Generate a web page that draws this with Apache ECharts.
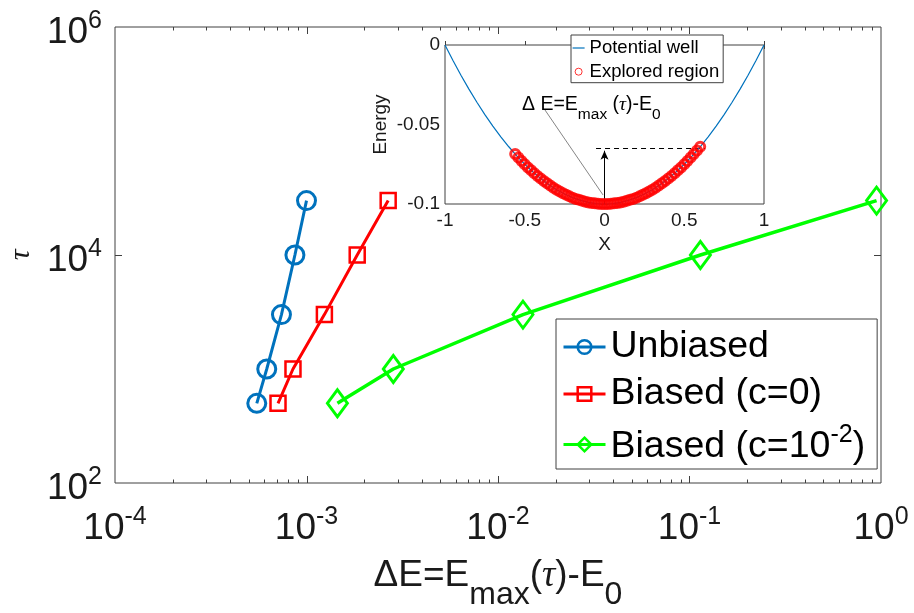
<!DOCTYPE html>
<html><head><meta charset="utf-8">
<script src="https://cdn.jsdelivr.net/npm/echarts@6/dist/echarts.min.js"></script>
<style>html,body{margin:0;padding:0;background:#fff}#c{width:914px;height:613px}</style>
</head><body><div id="c"></div>
<script>
// ---- main plot data ----
const unbiasedX   = [5.5e-4, 6.2e-4, 7.4e-4, 8.7e-4, 1.0e-3];
const unbiasedTau = [500, 1000, 3000, 10000, 30000];
const biasedX     = [7.1e-4, 8.5e-4, 1.24e-3, 1.84e-3, 2.67e-3];
const biasedTau   = [500, 1000, 3000, 10000, 30000];
const biasedCX    = [1.45e-3, 2.84e-3, 1.35e-2, 0.114, 0.948];
const biasedCTau  = [500, 1000, 3000, 10000, 30000];
const seriesNames = ['Unbiased', 'Biased (c=0)', 'Biased (c=10^-2)'];

// ---- inset data ----
const wellX = [-1,-0.95,-0.9,-0.85,-0.8,-0.75,-0.7,-0.65,-0.6,-0.55,-0.5,-0.45,-0.4,-0.35,-0.3,-0.25,-0.2,-0.15,-0.1,-0.05,0,
               0.05,0.1,0.15,0.2,0.25,0.3,0.35,0.4,0.45,0.5,0.55,0.6,0.65,0.7,0.75,0.8,0.85,0.9,0.95,1];
const wellE = [0,-0.00975,-0.019,-0.02775,-0.036,-0.04375,-0.051,-0.05775,-0.064,-0.06975,-0.075,-0.07975,-0.084,-0.08775,-0.091,-0.09375,-0.096,-0.09775,-0.099,-0.09975,-0.1,
               -0.09975,-0.099,-0.09775,-0.096,-0.09375,-0.091,-0.08775,-0.084,-0.07975,-0.075,-0.06975,-0.064,-0.05775,-0.051,-0.04375,-0.036,-0.02775,-0.019,-0.00975,0];
const exploredX = [-0.56,-0.54,-0.52,-0.5,-0.48,-0.46,-0.44,-0.42,-0.4,-0.38,-0.36,-0.34,-0.32,-0.3,-0.28,-0.26,-0.24,-0.22,-0.2,-0.18,-0.16,-0.14,-0.12,-0.1,-0.08,-0.06,-0.04,-0.02,0,
                   0.02,0.04,0.06,0.08,0.1,0.12,0.14,0.16,0.18,0.2,0.22,0.24,0.26,0.28,0.3,0.32,0.34,0.36,0.38,0.4,0.42,0.44,0.46,0.48,0.5,0.52,0.54,0.56,0.58,0.6];
const exploredE = [-0.0686,-0.0708,-0.0730,-0.0750,-0.0770,-0.0788,-0.0806,-0.0824,-0.0840,-0.0856,-0.0870,-0.0884,-0.0898,-0.0910,-0.0922,-0.0932,-0.0942,-0.0952,-0.0960,-0.0968,-0.0974,-0.0980,-0.0986,-0.0990,-0.0994,-0.0996,-0.0998,-0.1000,-0.1000,
                   -0.1000,-0.0998,-0.0996,-0.0994,-0.0990,-0.0986,-0.0980,-0.0974,-0.0968,-0.0960,-0.0952,-0.0942,-0.0932,-0.0922,-0.0910,-0.0898,-0.0884,-0.0870,-0.0856,-0.0840,-0.0824,-0.0806,-0.0788,-0.0770,-0.0750,-0.0730,-0.0708,-0.0686,-0.0664,-0.0640];
const arrowBase = [0, -0.1], arrowTip = [0, -0.0665];
const dashStart = [-0.053, -0.065], dashEnd = [0.63, -0.065];
const pointerStart = [-0.373, -0.0409], pointerEnd = [-0.0094, -0.0943];

// ---- axis ticks ----
const xMajorInner = [1e-3, 1e-2, 1e-1];
const xMinor = [];
for (let d = -4; d < 0; d++) for (let k = 2; k <= 9; k++) xMinor.push(k * Math.pow(10, d));
const yMajorInner = [1e4];

const FONT = '"Liberation Sans", Arial, Helvetica, sans-serif';
const AX = '#404040';
const TXT = '#1a1a1a';
const pair = (xs, ys) => xs.map((x, i) => [x, ys[i]]);
const sup = e => '{b|10}{s|' + e + '}';
const xSupRich = {
  b: {fontSize: 37, lineHeight: 36, fontFamily: FONT, color: TXT},
  s: {fontSize: 25, height: 12, lineHeight: 12, verticalAlign: 'top', fontFamily: FONT, color: TXT}
};
const ySupRich = {
  b: {fontSize: 37, lineHeight: 48, height: 36, verticalAlign: 'bottom', fontFamily: FONT, color: TXT},
  s: {fontSize: 25, height: 36, lineHeight: 12, verticalAlign: 'top', fontFamily: FONT, color: TXT}
};

const chart = echarts.init(document.getElementById('c'));
const option = {
  animation: false,
  backgroundColor: '#fff',
  textStyle: {fontFamily: FONT},
  grid: [
    {left: 115, top: 27, width: 766, height: 456, outerBoundsMode: 'none', containLabel: false,
     show: true, borderColor: AX, borderWidth: 1, backgroundColor: 'rgba(0,0,0,0)'},
    {left: 445, top: 45, width: 319, height: 159, outerBoundsMode: 'none', containLabel: false,
     show: true, borderColor: AX, borderWidth: 1, backgroundColor: '#fff', z: 4}
  ],
  xAxis: [
    {gridIndex: 0, type: 'log', logBase: 10, min: 1e-4, max: 1,
     axisLine: {show: false}, axisTick: {show: false}, splitLine: {show: false},
     axisLabel: {margin: 28, showMinLabel: true, showMaxLabel: true,
       formatter: v => sup(Math.round(Math.log10(v))), rich: xSupRich},
     name: '{n|ΔE=E}{sub|max}{n|(}{tau|τ}{n|)-E}{sub|0}', nameLocation: 'middle', nameGap: 73,
     nameTextStyle: {rich: {
       n: {fontSize: 37, lineHeight: 40, fontFamily: FONT, color: TXT},
       tau: {fontSize: 37, lineHeight: 40, fontFamily: '"Liberation Serif", serif', fontStyle: 'italic', color: TXT},
       sub: {fontSize: 32, height: 2, lineHeight: 2, verticalAlign: 'bottom', fontFamily: FONT, color: TXT}
     }}},
    {gridIndex: 1, type: 'value', min: -1, max: 1, interval: 0.5, position: 'bottom',
     axisLine: {show: false}, axisTick: {show: true, inside: true, length: 4, lineStyle: {color: AX}}, splitLine: {show: false},
     axisLabel: {fontSize: 19, color: TXT, margin: 7, fontFamily: FONT},
     name: 'X', nameLocation: 'middle', nameGap: 31, nameTextStyle: {fontSize: 19, color: TXT, fontFamily: FONT}},
    {gridIndex: 1, type: 'value', min: -1, max: 1, interval: 0.5, position: 'top',
     axisLine: {show: false}, axisTick: {show: true, inside: true, length: 4, lineStyle: {color: AX}}, splitLine: {show: false},
     axisLabel: {show: false}}
  ],
  yAxis: [
    {gridIndex: 0, type: 'log', logBase: 10, min: 100, max: 1e6,
     axisLine: {show: false}, axisTick: {show: false}, splitLine: {show: false},
     axisLabel: {margin: 13, showMinLabel: true, showMaxLabel: true,
       formatter: v => { const e = Math.round(Math.log10(v)); return e % 2 === 0 ? sup(e) : ''; }, rich: ySupRich},
     name: 'τ', nameLocation: 'middle', nameGap: 78,
     nameTextStyle: {fontSize: 30, color: TXT, fontFamily: '"Liberation Serif", serif', fontStyle: 'italic'}},
    {gridIndex: 1, type: 'value', min: -0.1, max: 0, interval: 0.05, position: 'left',
     axisLine: {show: false}, axisTick: {show: true, inside: true, length: 4, lineStyle: {color: AX}}, splitLine: {show: false},
     axisLabel: {fontSize: 19, color: TXT, margin: 5, fontFamily: FONT},
     name: 'Energy', nameLocation: 'middle', nameGap: 55, nameTextStyle: {fontSize: 19, color: TXT, fontFamily: FONT}},
    {gridIndex: 1, type: 'value', min: -0.1, max: 0, interval: 0.05, position: 'right',
     axisLine: {show: false}, axisTick: {show: true, inside: true, length: 4, lineStyle: {color: AX}}, splitLine: {show: false},
     axisLabel: {show: false}}
  ],
  legend: [
    {data: seriesNames, orient: 'vertical', left: 556, top: 319,
     itemWidth: 42, itemHeight: 17, itemGap: 9, padding: [9, 12, 2, 6],
     backgroundColor: '#fff', borderColor: AX, borderWidth: 1,
     lineStyle: {width: 3}, itemStyle: {borderWidth: 2.5},
     formatter: name => name === 'Biased (c=10^-2)' ? '{m|Biased (c=10}{s|-2}{m|)}' : '{n|' + name + '}',
     textStyle: {fontFamily: FONT, fontSize: 37.5, color: '#000', rich: {
       n: {fontSize: 37.5, lineHeight: 40, fontFamily: FONT, color: '#000'},
       m: {fontSize: 37.5, lineHeight: 45, height: 40, verticalAlign: 'bottom', fontFamily: FONT, color: '#000'},
       s: {fontSize: 25, height: 26, lineHeight: 26, verticalAlign: 'top', fontFamily: FONT, color: '#000'}
     }}, z: 10},
    {data: [{name: 'Potential well', itemStyle: {opacity: 0}}, 'Explored region'], orient: 'vertical', left: 571, top: 35,
     itemWidth: 12, itemHeight: 7, itemGap: 3.7, padding: [3, 4, 1, 1],
     backgroundColor: '#fff', borderColor: AX, borderWidth: 1,
     lineStyle: {width: 1.2}, itemStyle: {borderWidth: 1},
     textStyle: {fontFamily: FONT, fontSize: 18.5, lineHeight: 20, color: '#000'}, z: 10}
  ],
  graphic: [
    {type: 'text', left: 522, top: 95, z: 20, silent: true,
     style: {text: '{n|Δ E=E}{sub|max}{n| (}{tau|τ}{n|)-E}{sub|0}', rich: {
       n: {fontSize: 19.5, lineHeight: 22, fontFamily: FONT, fill: '#000'},
       tau: {fontSize: 19.5, lineHeight: 22, fontFamily: '"Liberation Serif", serif', fontStyle: 'italic', fill: '#000'},
       sub: {fontSize: 15.5, height: 2, lineHeight: 2, verticalAlign: 'bottom', fontFamily: FONT, fill: '#000'}
     }}}
  ],
  series: [
    {type: 'custom', xAxisIndex: 0, yAxisIndex: 0, silent: true, z: 1,
     data: xMinor.map(v => [v, 100, 3.5]).concat(xMajorInner.map(v => [v, 100, 7])),
     encode: {x: 0, y: 1},
     renderItem: (p, api) => {
       const v = api.value(0), L = api.value(2);
       const b = api.coord([v, 100]), t = api.coord([v, 1e6]);
       const x = Math.round(b[0]) + 0.5;
       return {type: 'group', children: [
         {type: 'line', shape: {x1: x, y1: b[1], x2: x, y2: b[1] - L}, style: {stroke: AX, lineWidth: 1}},
         {type: 'line', shape: {x1: x, y1: t[1], x2: x, y2: t[1] + L}, style: {stroke: AX, lineWidth: 1}}
       ]};
     }},
    {type: 'custom', xAxisIndex: 0, yAxisIndex: 0, silent: true, z: 1,
     data: yMajorInner.map(v => [1e-4, v, 7]),
     encode: {x: 0, y: 1},
     renderItem: (p, api) => {
       const v = api.value(1), L = api.value(2);
       const l = api.coord([1e-4, v]), r = api.coord([1, v]);
       const y = Math.round(l[1]) + 0.5;
       return {type: 'group', children: [
         {type: 'line', shape: {x1: l[0], y1: y, x2: l[0] + L, y2: y}, style: {stroke: AX, lineWidth: 1}},
         {type: 'line', shape: {x1: r[0], y1: y, x2: r[0] - L, y2: y}, style: {stroke: AX, lineWidth: 1}}
       ]};
     }},
    {name: 'Unbiased', type: 'line', xAxisIndex: 0, yAxisIndex: 0, data: pair(unbiasedX, unbiasedTau),
     symbol: 'circle', symbolSize: 18, color: '#0072BD', z: 3,
     lineStyle: {width: 3, color: '#0072BD'},
     itemStyle: {color: 'rgba(255,255,255,0)', borderColor: '#0072BD', borderWidth: 3}},
    {name: 'Biased (c=0)', type: 'line', xAxisIndex: 0, yAxisIndex: 0, data: pair(biasedX, biasedTau),
     symbol: 'rect', symbolSize: 15, color: '#FF0000', z: 3,
     lineStyle: {width: 3, color: '#FF0000'},
     itemStyle: {color: 'rgba(255,255,255,0)', borderColor: '#FF0000', borderWidth: 2.5}},
    {name: 'Biased (c=10^-2)', type: 'line', xAxisIndex: 0, yAxisIndex: 0, data: pair(biasedCX, biasedCTau),
     symbol: 'diamond', symbolSize: [20, 27], color: '#00FF00', z: 3,
     lineStyle: {width: 3.5, color: '#00FF00'},
     itemStyle: {color: 'rgba(255,255,255,0)', borderColor: '#00FF00', borderWidth: 3}},
    {name: 'Potential well', type: 'line', xAxisIndex: 1, yAxisIndex: 1, data: pair(wellX, wellE),
     symbol: 'none', showSymbol: false, color: '#0072BD', z: 6,
     lineStyle: {width: 1.2, color: '#0072BD'}},
    {name: 'Explored region', type: 'scatter', xAxisIndex: 1, yAxisIndex: 1, data: pair(exploredX, exploredE),
     symbol: 'circle', symbolSize: 9, color: '#FF0000', z: 7,
     itemStyle: {color: 'rgba(255,0,0,0)', borderColor: '#FF0000', borderWidth: 3},
     markLine: {silent: true, animation: false, label: {show: false}, symbol: ['none', 'none'],
       data: [
         [{coord: arrowBase, symbol: 'none'}, {coord: arrowTip, symbol: 'arrow', symbolSize: [6, 9],
           lineStyle: {color: '#000', width: 1, type: 'solid'}}],
         [{coord: dashStart}, {coord: dashEnd, lineStyle: {color: '#000', width: 1, type: [5, 4]}}],
         [{coord: pointerStart}, {coord: pointerEnd, lineStyle: {color: '#666', width: 0.8, type: 'solid'}}]
       ]}}
  ]
};
chart.setOption(option);
</script>
</body></html>
